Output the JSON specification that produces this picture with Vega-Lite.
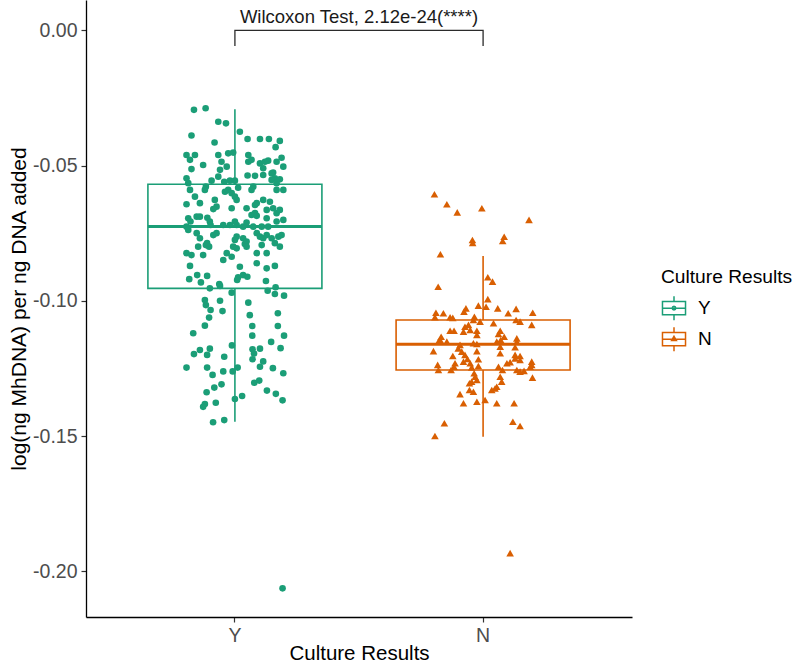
{
  "$schema": "https://vega.github.io/schema/vega-lite/v6.json",
  "width": 546,
  "height": 617,
  "autosize": {"type": "none"},
  "padding": {"left": 86, "top": 0, "right": 165, "bottom": 48},
  "background": "white",
  "config": {
    "view": {"stroke": null},
    "font": "Liberation Sans",
    "axis": {"domainColor": "#000", "domainWidth": 1.3, "tickColor": "#333", "tickWidth": 1.2, "tickSize": 5, "labelFontSize": 19.5, "labelColor": "#4d4d4d", "labelFont": "Liberation Sans", "titleFont": "Liberation Sans", "titleFontSize": 20.5, "titleFontWeight": "normal", "titleColor": "#000", "grid": false, "labelPadding": 4}
  },
  "datasets": {
    "summary": [
      {"culture": "Y", "lower": -0.1447, "q1": -0.0954, "median": -0.0725, "q3": -0.0569, "upper": -0.0292},
      {"culture": "N", "lower": -0.1503, "q1": -0.1256, "median": -0.1161, "q3": -0.1071, "upper": -0.0834}
    ],
    "bracket": [
      {"culture": "Y", "step": 1, "level": -0.0058},
      {"culture": "Y", "step": 2, "level": 0},
      {"culture": "N", "step": 3, "level": 0},
      {"culture": "N", "step": 4, "level": -0.0058}
    ],
    "label": [{"text": "Wilcoxon Test, 2.12e-24(****)", "level": 0.0027}],
    "points": [
      {"culture":"Y","jitter":-0.165,"value":-0.0294},{"culture":"Y","jitter":-0.118,"value":-0.0288},{"culture":"Y","jitter":-0.067,"value":-0.0338},{"culture":"Y","jitter":-0.036,"value":-0.0344},{"culture":"Y","jitter":-0.175,"value":-0.0389},{"culture":"Y","jitter":0.020,"value":-0.0375},{"culture":"Y","jitter":-0.082,"value":-0.0415},{"culture":"Y","jitter":0.051,"value":-0.0402},{"culture":"Y","jitter":0.101,"value":-0.0402},{"culture":"Y","jitter":0.137,"value":-0.0402},{"culture":"Y","jitter":0.181,"value":-0.0409},{"culture":"Y","jitter":0.164,"value":-0.0432},{"culture":"Y","jitter":-0.195,"value":-0.0461},{"culture":"Y","jitter":-0.161,"value":-0.0461},{"culture":"Y","jitter":-0.181,"value":-0.0479},{"culture":"Y","jitter":-0.067,"value":-0.0461},{"culture":"Y","jitter":-0.027,"value":-0.0455},{"culture":"Y","jitter":-0.007,"value":-0.0452},{"culture":"Y","jitter":0.054,"value":-0.0461},{"culture":"Y","jitter":0.054,"value":-0.0486},{"culture":"Y","jitter":0.067,"value":-0.0479},{"culture":"Y","jitter":0.101,"value":-0.0492},{"culture":"Y","jitter":0.121,"value":-0.0486},{"culture":"Y","jitter":0.134,"value":-0.0482},{"culture":"Y","jitter":0.168,"value":-0.0486},{"culture":"Y","jitter":0.188,"value":-0.0471},{"culture":"Y","jitter":-0.128,"value":-0.0498},{"culture":"Y","jitter":-0.060,"value":-0.0516},{"culture":"Y","jitter":-0.033,"value":-0.0504},{"culture":"Y","jitter":-0.054,"value":-0.0486},{"culture":"Y","jitter":-0.175,"value":-0.0513},{"culture":"Y","jitter":0.195,"value":-0.0504},{"culture":"Y","jitter":0.154,"value":-0.0526},{"culture":"Y","jitter":0.114,"value":-0.0510},{"culture":"Y","jitter":0.051,"value":-0.0537},{"culture":"Y","jitter":0.081,"value":-0.0538},{"culture":"Y","jitter":0.114,"value":-0.0535},{"culture":"Y","jitter":0.148,"value":-0.0529},{"culture":"Y","jitter":0.161,"value":-0.0547},{"culture":"Y","jitter":-0.195,"value":-0.0547},{"culture":"Y","jitter":-0.188,"value":-0.0565},{"culture":"Y","jitter":-0.181,"value":-0.0590},{"culture":"Y","jitter":-0.094,"value":-0.0556},{"culture":"Y","jitter":-0.067,"value":-0.0541},{"culture":"Y","jitter":-0.043,"value":-0.0560},{"culture":"Y","jitter":-0.020,"value":-0.0556},{"culture":"Y","jitter":0.000,"value":-0.0556},{"culture":"Y","jitter":-0.117,"value":-0.0578},{"culture":"Y","jitter":-0.121,"value":-0.0590},{"culture":"Y","jitter":0.013,"value":-0.0582},{"culture":"Y","jitter":0.074,"value":-0.0578},{"culture":"Y","jitter":0.067,"value":-0.0590},{"culture":"Y","jitter":0.148,"value":-0.0553},{"culture":"Y","jitter":0.168,"value":-0.0565},{"culture":"Y","jitter":0.181,"value":-0.0551},{"culture":"Y","jitter":0.195,"value":-0.0590},{"culture":"Y","jitter":0.168,"value":-0.0590},{"culture":"Y","jitter":-0.040,"value":-0.0597},{"culture":"Y","jitter":-0.013,"value":-0.0602},{"culture":"Y","jitter":-0.027,"value":-0.0590},{"culture":"Y","jitter":-0.161,"value":-0.0615},{"culture":"Y","jitter":-0.141,"value":-0.0639},{"culture":"Y","jitter":-0.195,"value":-0.0643},{"culture":"Y","jitter":-0.081,"value":-0.0627},{"culture":"Y","jitter":-0.074,"value":-0.0652},{"culture":"Y","jitter":-0.087,"value":-0.0661},{"culture":"Y","jitter":0.007,"value":-0.0627},{"culture":"Y","jitter":0.000,"value":-0.0615},{"culture":"Y","jitter":0.114,"value":-0.0627},{"culture":"Y","jitter":0.141,"value":-0.0634},{"culture":"Y","jitter":0.081,"value":-0.0646},{"culture":"Y","jitter":0.088,"value":-0.0639},{"culture":"Y","jitter":-0.013,"value":-0.0658},{"culture":"Y","jitter":0.047,"value":-0.0658},{"culture":"Y","jitter":0.067,"value":-0.0683},{"culture":"Y","jitter":0.081,"value":-0.0676},{"culture":"Y","jitter":0.088,"value":-0.0686},{"culture":"Y","jitter":0.128,"value":-0.0664},{"culture":"Y","jitter":0.154,"value":-0.0658},{"culture":"Y","jitter":0.168,"value":-0.0676},{"culture":"Y","jitter":0.181,"value":-0.0664},{"culture":"Y","jitter":-0.188,"value":-0.0695},{"culture":"Y","jitter":-0.179,"value":-0.0707},{"culture":"Y","jitter":-0.195,"value":-0.0726},{"culture":"Y","jitter":-0.188,"value":-0.0738},{"culture":"Y","jitter":-0.154,"value":-0.0689},{"culture":"Y","jitter":-0.141,"value":-0.0689},{"culture":"Y","jitter":-0.111,"value":-0.0693},{"culture":"Y","jitter":-0.101,"value":-0.0707},{"culture":"Y","jitter":-0.098,"value":-0.0720},{"culture":"Y","jitter":-0.047,"value":-0.0720},{"culture":"Y","jitter":-0.020,"value":-0.0720},{"culture":"Y","jitter":0.000,"value":-0.0707},{"culture":"Y","jitter":0.007,"value":-0.0720},{"culture":"Y","jitter":0.033,"value":-0.0726},{"culture":"Y","jitter":0.047,"value":-0.0711},{"culture":"Y","jitter":0.074,"value":-0.0726},{"culture":"Y","jitter":0.108,"value":-0.0726},{"culture":"Y","jitter":0.134,"value":-0.0726},{"culture":"Y","jitter":0.128,"value":-0.0695},{"culture":"Y","jitter":0.168,"value":-0.0707},{"culture":"Y","jitter":0.195,"value":-0.0701},{"culture":"Y","jitter":-0.154,"value":-0.0750},{"culture":"Y","jitter":-0.141,"value":-0.0769},{"culture":"Y","jitter":-0.087,"value":-0.0757},{"culture":"Y","jitter":-0.074,"value":-0.0750},{"culture":"Y","jitter":0.007,"value":-0.0763},{"culture":"Y","jitter":0.000,"value":-0.0775},{"culture":"Y","jitter":0.033,"value":-0.0769},{"culture":"Y","jitter":0.047,"value":-0.0781},{"culture":"Y","jitter":0.088,"value":-0.0750},{"culture":"Y","jitter":0.101,"value":-0.0763},{"culture":"Y","jitter":0.114,"value":-0.0769},{"culture":"Y","jitter":0.128,"value":-0.0757},{"culture":"Y","jitter":0.148,"value":-0.0769},{"culture":"Y","jitter":0.175,"value":-0.0763},{"culture":"Y","jitter":0.188,"value":-0.0757},{"culture":"Y","jitter":-0.148,"value":-0.0800},{"culture":"Y","jitter":-0.112,"value":-0.0787},{"culture":"Y","jitter":-0.104,"value":-0.0800},{"culture":"Y","jitter":-0.117,"value":-0.0794},{"culture":"Y","jitter":-0.007,"value":-0.0800},{"culture":"Y","jitter":0.007,"value":-0.0806},{"culture":"Y","jitter":0.040,"value":-0.0790},{"culture":"Y","jitter":0.047,"value":-0.0800},{"culture":"Y","jitter":0.108,"value":-0.0794},{"culture":"Y","jitter":0.161,"value":-0.0787},{"culture":"Y","jitter":0.181,"value":-0.0800},{"culture":"Y","jitter":-0.195,"value":-0.0824},{"culture":"Y","jitter":-0.175,"value":-0.0831},{"culture":"Y","jitter":-0.128,"value":-0.0831},{"culture":"Y","jitter":-0.033,"value":-0.0824},{"culture":"Y","jitter":-0.013,"value":-0.0837},{"culture":"Y","jitter":-0.047,"value":-0.0849},{"culture":"Y","jitter":0.088,"value":-0.0824},{"culture":"Y","jitter":0.128,"value":-0.0824},{"culture":"Y","jitter":-0.181,"value":-0.0871},{"culture":"Y","jitter":0.020,"value":-0.0874},{"culture":"Y","jitter":0.088,"value":-0.0861},{"culture":"Y","jitter":0.161,"value":-0.0871},{"culture":"Y","jitter":0.128,"value":-0.0880},{"culture":"Y","jitter":-0.152,"value":-0.0905},{"culture":"Y","jitter":-0.112,"value":-0.0908},{"culture":"Y","jitter":-0.184,"value":-0.0920},{"culture":"Y","jitter":-0.137,"value":-0.0932},{"culture":"Y","jitter":-0.063,"value":-0.0938},{"culture":"Y","jitter":-0.060,"value":-0.0945},{"culture":"Y","jitter":-0.101,"value":-0.0954},{"culture":"Y","jitter":0.013,"value":-0.0913},{"culture":"Y","jitter":0.033,"value":-0.0905},{"culture":"Y","jitter":0.050,"value":-0.0911},{"culture":"Y","jitter":0.009,"value":-0.0923},{"culture":"Y","jitter":0.125,"value":-0.0927},{"culture":"Y","jitter":0.132,"value":-0.0963},{"culture":"Y","jitter":0.164,"value":-0.0950},{"culture":"Y","jitter":0.161,"value":-0.0975},{"culture":"Y","jitter":0.198,"value":-0.0981},{"culture":"Y","jitter":-0.013,"value":-0.0970},{"culture":"Y","jitter":-0.121,"value":-0.0997},{"culture":"Y","jitter":-0.117,"value":-0.1016},{"culture":"Y","jitter":-0.060,"value":-0.1000},{"culture":"Y","jitter":-0.098,"value":-0.1034},{"culture":"Y","jitter":-0.050,"value":-0.1038},{"culture":"Y","jitter":-0.104,"value":-0.1062},{"culture":"Y","jitter":0.054,"value":-0.1007},{"culture":"Y","jitter":0.060,"value":-0.1053},{"culture":"Y","jitter":0.173,"value":-0.1046},{"culture":"Y","jitter":-0.121,"value":-0.1092},{"culture":"Y","jitter":-0.168,"value":-0.1120},{"culture":"Y","jitter":0.070,"value":-0.1093},{"culture":"Y","jitter":0.173,"value":-0.1093},{"culture":"Y","jitter":0.198,"value":-0.1129},{"culture":"Y","jitter":0.070,"value":-0.1129},{"culture":"Y","jitter":0.146,"value":-0.1152},{"culture":"Y","jitter":-0.012,"value":-0.1165},{"culture":"Y","jitter":-0.101,"value":-0.1177},{"culture":"Y","jitter":-0.141,"value":-0.1182},{"culture":"Y","jitter":-0.165,"value":-0.1197},{"culture":"Y","jitter":-0.112,"value":-0.1200},{"culture":"Y","jitter":-0.043,"value":-0.1207},{"culture":"Y","jitter":0.071,"value":-0.1179},{"culture":"Y","jitter":0.077,"value":-0.1195},{"culture":"Y","jitter":0.101,"value":-0.1177},{"culture":"Y","jitter":0.184,"value":-0.1175},{"culture":"Y","jitter":0.071,"value":-0.1216},{"culture":"Y","jitter":0.114,"value":-0.1224},{"culture":"Y","jitter":0.101,"value":-0.1244},{"culture":"Y","jitter":-0.195,"value":-0.1247},{"culture":"Y","jitter":-0.112,"value":-0.1247},{"culture":"Y","jitter":0.011,"value":-0.1247},{"culture":"Y","jitter":-0.009,"value":-0.1261},{"culture":"Y","jitter":-0.047,"value":-0.1261},{"culture":"Y","jitter":0.153,"value":-0.1249},{"culture":"Y","jitter":0.195,"value":-0.1268},{"culture":"Y","jitter":-0.090,"value":-0.1274},{"culture":"Y","jitter":-0.054,"value":-0.1309},{"culture":"Y","jitter":-0.083,"value":-0.1321},{"culture":"Y","jitter":-0.114,"value":-0.1338},{"culture":"Y","jitter":0.078,"value":-0.1303},{"culture":"Y","jitter":0.098,"value":-0.1295},{"culture":"Y","jitter":0.129,"value":-0.1332},{"culture":"Y","jitter":0.165,"value":-0.1344},{"culture":"Y","jitter":0.192,"value":-0.1368},{"culture":"Y","jitter":0.000,"value":-0.1363},{"culture":"Y","jitter":0.029,"value":-0.1352},{"culture":"Y","jitter":-0.077,"value":-0.1377},{"culture":"Y","jitter":-0.121,"value":-0.1382},{"culture":"Y","jitter":-0.128,"value":-0.1392},{"culture":"Y","jitter":-0.088,"value":-0.1449},{"culture":"Y","jitter":-0.043,"value":-0.1441},{"culture":"Y","jitter":0.192,"value":-0.2063},
      {"culture":"N","jitter":-0.196,"value":-0.0606},{"culture":"N","jitter":-0.146,"value":-0.0643},{"culture":"N","jitter":-0.104,"value":-0.0673},{"culture":"N","jitter":-0.005,"value":-0.0658},{"culture":"N","jitter":0.185,"value":-0.0701},{"culture":"N","jitter":-0.043,"value":-0.0775},{"culture":"N","jitter":-0.042,"value":-0.0786},{"culture":"N","jitter":0.085,"value":-0.0763},{"culture":"N","jitter":0.079,"value":-0.0779},{"culture":"N","jitter":-0.172,"value":-0.0828},{"culture":"N","jitter":0.019,"value":-0.0913},{"culture":"N","jitter":0.038,"value":-0.0929},{"culture":"N","jitter":-0.181,"value":-0.0948},{"culture":"N","jitter":0.019,"value":-0.0994},{"culture":"N","jitter":-0.019,"value":-0.1018},{"culture":"N","jitter":0.012,"value":-0.1022},{"culture":"N","jitter":0.059,"value":-0.1028},{"culture":"N","jitter":0.133,"value":-0.1030},{"culture":"N","jitter":-0.069,"value":-0.1028},{"culture":"N","jitter":-0.077,"value":-0.1040},{"culture":"N","jitter":0.101,"value":-0.1046},{"culture":"N","jitter":0.200,"value":-0.1044},{"culture":"N","jitter":-0.190,"value":-0.1044},{"culture":"N","jitter":-0.160,"value":-0.1046},{"culture":"N","jitter":-0.133,"value":-0.1061},{"culture":"N","jitter":-0.035,"value":-0.1059},{"culture":"N","jitter":-0.194,"value":-0.1061},{"culture":"N","jitter":-0.122,"value":-0.1063},{"culture":"N","jitter":-0.012,"value":-0.1077},{"culture":"N","jitter":0.133,"value":-0.1071},{"culture":"N","jitter":0.149,"value":-0.1077},{"culture":"N","jitter":0.196,"value":-0.1089},{"culture":"N","jitter":0.042,"value":-0.1083},{"culture":"N","jitter":-0.073,"value":-0.1096},{"culture":"N","jitter":-0.059,"value":-0.1089},{"culture":"N","jitter":-0.039,"value":-0.1071},{"culture":"N","jitter":-0.052,"value":-0.1108},{"culture":"N","jitter":-0.079,"value":-0.1114},{"culture":"N","jitter":-0.133,"value":-0.1111},{"culture":"N","jitter":-0.117,"value":-0.1111},{"culture":"N","jitter":-0.025,"value":-0.1111},{"culture":"N","jitter":0.069,"value":-0.1111},{"culture":"N","jitter":0.062,"value":-0.1123},{"culture":"N","jitter":0.085,"value":-0.1133},{"culture":"N","jitter":0.071,"value":-0.1145},{"culture":"N","jitter":-0.025,"value":-0.1126},{"culture":"N","jitter":-0.169,"value":-0.1133},{"culture":"N","jitter":-0.173,"value":-0.1145},{"culture":"N","jitter":-0.180,"value":-0.1151},{"culture":"N","jitter":0.136,"value":-0.1139},{"culture":"N","jitter":0.055,"value":-0.1151},{"culture":"N","jitter":0.069,"value":-0.1170},{"culture":"N","jitter":-0.146,"value":-0.1151},{"culture":"N","jitter":-0.093,"value":-0.1163},{"culture":"N","jitter":-0.100,"value":-0.1176},{"culture":"N","jitter":-0.086,"value":-0.1188},{"culture":"N","jitter":-0.200,"value":-0.1186},{"culture":"N","jitter":-0.025,"value":-0.1160},{"culture":"N","jitter":-0.025,"value":-0.1186},{"culture":"N","jitter":-0.039,"value":-0.1157},{"culture":"N","jitter":0.129,"value":-0.1172},{"culture":"N","jitter":0.136,"value":-0.1151},{"culture":"N","jitter":-0.122,"value":-0.1204},{"culture":"N","jitter":-0.073,"value":-0.1200},{"culture":"N","jitter":-0.063,"value":-0.1215},{"culture":"N","jitter":-0.079,"value":-0.1225},{"culture":"N","jitter":-0.052,"value":-0.1231},{"culture":"N","jitter":-0.019,"value":-0.1216},{"culture":"N","jitter":0.069,"value":-0.1194},{"culture":"N","jitter":0.129,"value":-0.1200},{"culture":"N","jitter":0.149,"value":-0.1204},{"culture":"N","jitter":-0.113,"value":-0.1231},{"culture":"N","jitter":-0.117,"value":-0.1244},{"culture":"N","jitter":-0.183,"value":-0.1237},{"culture":"N","jitter":-0.180,"value":-0.1256},{"culture":"N","jitter":-0.129,"value":-0.1256},{"culture":"N","jitter":-0.046,"value":-0.1246},{"culture":"N","jitter":-0.019,"value":-0.1241},{"culture":"N","jitter":0.062,"value":-0.1244},{"culture":"N","jitter":0.096,"value":-0.1231},{"culture":"N","jitter":0.109,"value":-0.1227},{"culture":"N","jitter":0.129,"value":-0.1213},{"culture":"N","jitter":0.149,"value":-0.1219},{"culture":"N","jitter":0.078,"value":-0.1256},{"culture":"N","jitter":0.136,"value":-0.1256},{"culture":"N","jitter":0.149,"value":-0.1262},{"culture":"N","jitter":0.165,"value":-0.1259},{"culture":"N","jitter":0.196,"value":-0.1225},{"culture":"N","jitter":0.196,"value":-0.1237},{"culture":"N","jitter":0.190,"value":-0.1244},{"culture":"N","jitter":-0.036,"value":-0.1268},{"culture":"N","jitter":-0.032,"value":-0.1281},{"culture":"N","jitter":-0.046,"value":-0.1299},{"culture":"N","jitter":-0.055,"value":-0.1305},{"culture":"N","jitter":-0.025,"value":-0.1293},{"culture":"N","jitter":0.069,"value":-0.1281},{"culture":"N","jitter":0.075,"value":-0.1299},{"culture":"N","jitter":0.199,"value":-0.1284},{"culture":"N","jitter":0.055,"value":-0.1318},{"culture":"N","jitter":0.048,"value":-0.1324},{"culture":"N","jitter":0.035,"value":-0.1330},{"culture":"N","jitter":-0.055,"value":-0.1330},{"culture":"N","jitter":-0.039,"value":-0.1336},{"culture":"N","jitter":-0.093,"value":-0.1345},{"culture":"N","jitter":-0.079,"value":-0.1379},{"culture":"N","jitter":-0.025,"value":-0.1373},{"culture":"N","jitter":0.008,"value":-0.1367},{"culture":"N","jitter":0.055,"value":-0.1379},{"culture":"N","jitter":0.125,"value":-0.1379},{"culture":"N","jitter":-0.156,"value":-0.1453},{"culture":"N","jitter":-0.194,"value":-0.1500},{"culture":"N","jitter":0.120,"value":-0.1447},{"culture":"N","jitter":0.149,"value":-0.1463},{"culture":"N","jitter":0.109,"value":-0.1933}
    ]
  },
  "layer": [
    {
      "data": {"name": "summary"},
      "mark": {"type": "rule", "strokeWidth": 1.6},
      "encoding": {
        "x": {"field": "culture", "type": "nominal", "scale": {"type": "band", "domain": ["Y", "N"], "paddingInner": 0, "paddingOuter": 0.1}, "axis": {"labelAngle": 0, "titlePadding": 15, "titleBaseline": "alphabetic"}, "title": "Culture Results"},
        "y": {"field": "upper", "type": "quantitative", "scale": {"domain": [-0.2169, 0.0112], "nice": false, "zero": false}, "axis": {"values": [-0.2, -0.15, -0.1, -0.05, 0], "labelExpr": "replace(format(datum.value, '.2f'), '\u2212', '-')", "titlePadding": 3, "titleFontSize": 21}, "title": "log(ng MhDNA) per ng DNA added"},
        "y2": {"field": "q3"},
        "stroke": {"field": "culture", "type": "nominal", "scale": {"domain": ["N", "Y"], "range": ["#d95f02", "#1b9e77"]}, "legend": null}
      }
    },
    {
      "data": {"name": "summary"},
      "mark": {"type": "rule", "strokeWidth": 1.6},
      "encoding": {
        "x": {"field": "culture", "type": "nominal"},
        "y": {"field": "lower", "type": "quantitative"},
        "y2": {"field": "q1"},
        "stroke": {"field": "culture", "type": "nominal", "legend": null}
      }
    },
    {
      "data": {"name": "summary"},
      "mark": {"type": "bar", "filled": false, "strokeWidth": 1.6, "width": 174},
      "encoding": {
        "x": {"field": "culture", "type": "nominal"},
        "y": {"field": "q1", "type": "quantitative"},
        "y2": {"field": "q3"},
        "color": {"field": "culture", "type": "nominal", "scale": {"domain": ["Y", "N"], "range": ["#1b9e77", "#d95f02"]}, "legend": {
          "title": "Culture Results", "orient": "none", "legendX": 575, "legendY": 268, "padding": 0,
          "titleFontSize": 19.2, "titleFontWeight": "normal", "titleColor": "#000", "titleFont": "Liberation Sans", "titlePadding": 8,
          "labelFontSize": 19, "labelColor": "#000", "labelFont": "Liberation Sans", "labelOffset": 11,
          "symbolSize": 576, "symbolStrokeWidth": 1.5, "symbolFillColor": "transparent", "rowPadding": 1,
          "symbolType": "M-0.96,-0.55L0.96,-0.55L0.96,0.55L-0.96,0.55Z M0,-1L0,-0.55 M0,0.55L0,1 M-0.96,0L0.96,0 M0.15,0L0.106,0.106L0,0.15L-0.106,0.106L-0.15,0L-0.106,-0.106L0,-0.15L0.106,-0.106Z",
          "encoding": {"symbols": {"shape": {"condition": {"test": "datum.value === 'N'", "value": "M-0.96,-0.55L0.96,-0.55L0.96,0.55L-0.96,0.55Z M0,-1L0,-0.55 M0,0.55L0,1 M-0.96,0L0.96,0 M0,-0.24L0.2,0.1L-0.2,0.1Z M0,-0.1L0.08,0.04L-0.08,0.04Z"}, "value": "M-0.96,-0.55L0.96,-0.55L0.96,0.55L-0.96,0.55Z M0,-1L0,-0.55 M0,0.55L0,1 M-0.96,0L0.96,0 M0.15,0L0.106,0.106L0,0.15L-0.106,0.106L-0.15,0L-0.106,-0.106L0,-0.15L0.106,-0.106Z"}}}
        }}
      }
    },
    {
      "data": {"name": "summary"},
      "mark": {"type": "bar", "filled": false, "strokeWidth": 3, "width": 174},
      "encoding": {
        "x": {"field": "culture", "type": "nominal"},
        "y": {"field": "median", "type": "quantitative"},
        "y2": {"field": "median"},
        "stroke": {"field": "culture", "type": "nominal", "legend": null}
      }
    },
    {
      "data": {"name": "points"},
      "mark": {"type": "point", "filled": true, "opacity": 1, "strokeWidth": 0},
      "encoding": {
        "x": {"field": "culture", "type": "nominal"},
        "xOffset": {"field": "jitter", "type": "quantitative", "scale": {"domain": [-0.5, 0.5]}},
        "y": {"field": "value", "type": "quantitative"},
        "fill": {"field": "culture", "type": "nominal", "scale": {"domain": ["N", "Y"], "range": ["#d95f02", "#1b9e77"]}, "legend": null},
        "shape": {"field": "culture", "type": "nominal", "scale": {"domain": ["N", "Y"], "range": ["triangle-up", "circle"]}, "legend": null},
        "size": {"field": "culture", "type": "nominal", "scale": {"domain": ["N", "Y"], "range": [58, 44]}, "legend": null}
      }
    },
    {
      "data": {"name": "bracket"},
      "mark": {"type": "line", "color": "#2b2b2b", "strokeWidth": 1.3},
      "encoding": {
        "x": {"field": "culture", "type": "nominal"},
        "y": {"field": "level", "type": "quantitative"},
        "order": {"field": "step", "type": "quantitative"}
      }
    },
    {
      "data": {"name": "label"},
      "mark": {"type": "text", "fontSize": 18.5, "baseline": "alphabetic", "align": "center", "color": "#1a1a1a", "font": "Liberation Sans"},
      "encoding": {
        "y": {"field": "level", "type": "quantitative"},
        "text": {"field": "text"}
      }
    }
  ]
}
